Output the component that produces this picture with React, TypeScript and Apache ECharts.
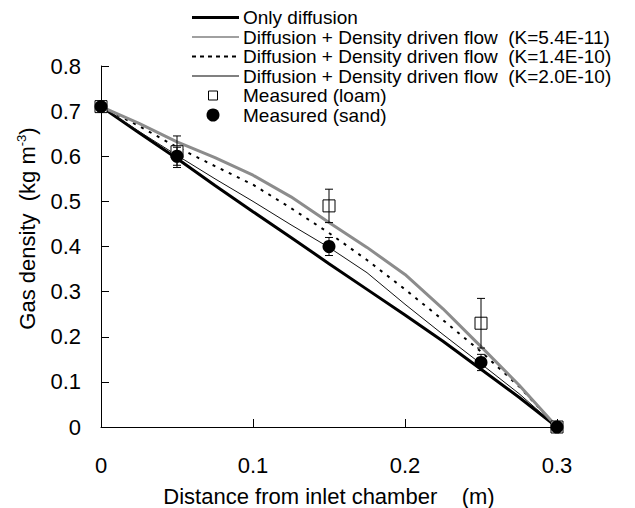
import React, { useEffect, useRef } from 'react';
import * as echarts from 'echarts';

const xGrid = [0, 0.025, 0.05, 0.075, 0.1, 0.125, 0.15, 0.175, 0.2, 0.225, 0.25, 0.275, 0.3];
const onlyDiffusion = [0.71, 0.652, 0.595, 0.535, 0.477, 0.42, 0.362, 0.305, 0.248, 0.19, 0.128, 0.066, 0];
const flowK54E11 = [0.71, 0.655, 0.602, 0.55, 0.5, 0.448, 0.398, 0.342, 0.272, 0.205, 0.14, 0.074, 0];
const flowK14E10 = [0.71, 0.667, 0.62, 0.578, 0.537, 0.485, 0.43, 0.37, 0.305, 0.237, 0.167, 0.09, 0];
const flowK20E10 = [0.71, 0.673, 0.632, 0.597, 0.558, 0.51, 0.453, 0.398, 0.338, 0.262, 0.178, 0.093, 0];

const measuredX = [0, 0.05, 0.15, 0.25, 0.3];
const loam = [0.71, 0.61, 0.49, 0.23, 0];
const loamErr = [0, 0.035, 0.037, 0.055, 0];
const sand = [0.71, 0.6, 0.4, 0.143, 0];
const sandErr = [0, 0.02, 0.02, 0.018, 0];

const legendLabels = [
  'Only diffusion',
  'Diffusion + Density driven flow  (K=5.4E-11)',
  'Diffusion + Density driven flow  (K=1.4E-10)',
  'Diffusion + Density driven flow  (K=2.0E-10)',
  'Measured (loam)',
  'Measured (sand)',
];

const FONT = '"Liberation Sans", Arial, sans-serif';

function pairs(xs: number[], ys: number[]) {
  return xs.map((x, i) => [x, ys[i]]);
}

function errData(xs: number[], ys: number[], es: number[]) {
  return xs
    .map((x, i) => [x, ys[i] - es[i], ys[i] + es[i]])
    .filter((d, i) => es[i] > 0);
}

function errorRender(params: any, api: any) {
  const x = api.value(0);
  const lo = api.value(1);
  const hi = api.value(2);
  const top = api.coord([x, hi]);
  const bot = api.coord([x, lo]);
  const w = 4;
  const style = { stroke: '#000', lineWidth: 1 };
  return {
    type: 'group',
    children: [
      { type: 'line', shape: { x1: top[0], y1: top[1], x2: bot[0], y2: bot[1] }, style },
      { type: 'line', shape: { x1: top[0] - w, y1: top[1], x2: top[0] + w, y2: top[1] }, style },
      { type: 'line', shape: { x1: bot[0] - w, y1: bot[1], x2: bot[0] + w, y2: bot[1] }, style },
    ],
  };
}

export default function App() {
  const ref = useRef<HTMLDivElement>(null);

  useEffect(() => {
    if (!ref.current) return;
    const chart = echarts.init(ref.current, null, { renderer: 'svg' });

    const rowY = (i: number) => 17.5 + 19.5 * i;
    const lx1 = 192;
    const lx2 = 239;
    const tx = 243;
    const legendGraphics: any[] = [
      { type: 'line', shape: { x1: lx1, y1: rowY(0), x2: lx2, y2: rowY(0) }, style: { stroke: '#000', lineWidth: 3 } },
      { type: 'line', shape: { x1: lx1, y1: rowY(1), x2: lx2, y2: rowY(1) }, style: { stroke: '#808080', lineWidth: 1.5 } },
      { type: 'line', shape: { x1: lx1, y1: rowY(2), x2: lx2, y2: rowY(2) }, style: { stroke: '#000', lineWidth: 2, lineDash: [4, 4] } },
      { type: 'line', shape: { x1: lx1, y1: rowY(3), x2: lx2, y2: rowY(3) }, style: { stroke: '#808080', lineWidth: 2 } },
      { type: 'rect', shape: { x: 208.5, y: rowY(4) - 4.5, width: 9, height: 9 }, style: { fill: '#fff', stroke: '#000', lineWidth: 1 } },
      { type: 'circle', shape: { cx: 213, cy: rowY(5), r: 6.5 }, style: { fill: '#000' } },
      ...legendLabels.map((t, i) => ({
        type: 'text',
        x: tx,
        y: rowY(i),
        style: { text: t, fill: '#000', font: `19px ${FONT}`, verticalAlign: 'middle', align: 'left' },
      })),
    ];

    chart.setOption({
      animation: false,
      backgroundColor: '#fff',
      grid: { left: 101, right: 78, top: 66, bottom: 81, containLabel: false, outerBoundsMode: 'none' },
      xAxis: {
        type: 'value',
        min: 0,
        max: 0.3,
        interval: 0.1,
        name: 'Distance from inlet chamber    (m)',
        nameLocation: 'middle',
        nameGap: 58,
        nameTextStyle: { fontSize: 22, fontFamily: FONT, color: '#000' },
        axisLine: { lineStyle: { color: '#000', width: 1 } },
        axisTick: { inside: true, length: 8, lineStyle: { color: '#000' } },
        axisLabel: { fontSize: 22, fontFamily: FONT, color: '#000', margin: 27 },
        splitLine: { show: false },
      },
      yAxis: {
        type: 'value',
        min: 0,
        max: 0.8,
        interval: 0.1,
        name: '{a|Gas density  (kg m}{s|-3}{a|)}',
        nameLocation: 'middle',
        nameRotate: 90,
        nameGap: 61,
        nameTextStyle: {
          fontSize: 22,
          fontFamily: FONT,
          color: '#000',
          padding: [0, 0, 0, 36],
          rich: {
            a: { fontSize: 22, fontFamily: FONT, color: '#000' },
            s: { fontSize: 13, fontFamily: FONT, color: '#000', verticalAlign: 'top', padding: [0, 0, 12, 0] },
          },
        },
        axisLine: { show: true, lineStyle: { color: '#000', width: 1 } },
        axisTick: { show: true, inside: true, length: 8, lineStyle: { color: '#000' } },
        axisLabel: { fontSize: 22, fontFamily: FONT, color: '#000', margin: 20, padding: [6, 0, 0, 0] },
        splitLine: { show: false },
      },
      graphic: legendGraphics,
      series: [
        {
          name: legendLabels[0],
          type: 'line',
          data: pairs(xGrid, onlyDiffusion),
          showSymbol: false,
          lineStyle: { color: '#000', width: 3 },
          z: 3,
        },
        {
          name: legendLabels[1],
          type: 'line',
          data: pairs(xGrid, flowK54E11),
          showSymbol: false,
          lineStyle: { color: '#111', width: 1 },
          z: 3,
        },
        {
          name: legendLabels[2],
          type: 'line',
          data: pairs(xGrid, flowK14E10),
          showSymbol: false,
          lineStyle: { color: '#000', width: 2, type: [3, 6] },
          z: 3,
        },
        {
          name: legendLabels[3],
          type: 'line',
          data: pairs(xGrid, flowK20E10),
          showSymbol: false,
          lineStyle: { color: '#8c8c8c', width: 3 },
          z: 3,
        },
        {
          name: legendLabels[4],
          type: 'scatter',
          data: pairs(measuredX, loam),
          symbol: 'rect',
          symbolSize: 12,
          itemStyle: { color: '#fff', borderColor: '#000', borderWidth: 1, opacity: 1 },
          z: 4,
        },
        {
          name: 'loam error',
          type: 'custom',
          data: errData(measuredX, loam, loamErr),
          encode: { x: 0, y: [1, 2] },
          renderItem: errorRender,
          z: 5,
        },
        {
          name: 'sand error',
          type: 'custom',
          data: errData(measuredX, sand, sandErr),
          encode: { x: 0, y: [1, 2] },
          renderItem: errorRender,
          z: 5,
        },
        {
          name: legendLabels[5],
          type: 'scatter',
          data: pairs(measuredX, sand),
          symbol: 'circle',
          symbolSize: 13,
          itemStyle: { color: '#000', opacity: 1 },
          z: 6,
        },
      ],
    });

    return () => chart.dispose();
  }, []);

  return <div ref={ref} style={{ width: 635, height: 508, position: 'absolute', left: 0, top: 0 }} />;
}
